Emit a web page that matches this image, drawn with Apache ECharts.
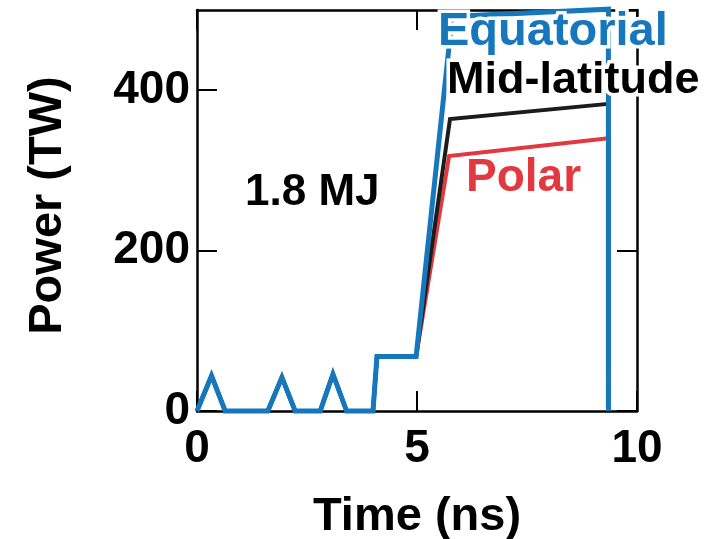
<!DOCTYPE html>
<html>
<head>
<meta charset="utf-8">
<script src="https://cdn.jsdelivr.net/npm/echarts@6/dist/echarts.min.js"></script>
<style>
  html, body { margin: 0; padding: 0; background: #fff; }
  #chart { width: 713px; height: 539px; }
</style>
</head>
<body>
<div id="chart"></div>
<script>
// Laser pulse shapes: time (ns) vs power (TW)
const equatorialTime  = [0, 0.33, 0.64, 1.61, 1.93, 2.23, 2.80, 3.09, 3.40, 4.00, 4.09, 4.98, 5.80, 9.35, 9.35];
const equatorialPower = [0, 44,   0,    0,    42,   0,    0,    46,   0,    0,    68,   68,   492,  501,  0];

const midLatTime  = [0, 0.33, 0.64, 1.61, 1.93, 2.23, 2.80, 3.09, 3.40, 4.00, 4.09, 4.98, 5.75, 9.35, 9.35];
const midLatPower = [0, 44,   0,    0,    42,   0,    0,    46,   0,    0,    68,   68,   364,  383,  0];

const polarTime  = [0, 0.33, 0.64, 1.61, 1.93, 2.23, 2.80, 3.09, 3.40, 4.00, 4.09, 4.98, 5.73, 9.35, 9.35];
const polarPower = [0, 44,   0,    0,    42,   0,    0,    46,   0,    0,    68,   68,   318,  340,  0];

const xRange = [0, 10], xStep = 5;
const yRange = [0, 500], yStep = 200;

const BLUE = '#1777bc', BLACK = '#1c1c1c', RED = '#e2383f';
const FONT = '"Liberation Sans", Arial, Helvetica, sans-serif';

const pairs = (t, p) => t.map((v, i) => [v, p[i]]);

const frameLine = { show: true, onZero: false, lineStyle: { color: '#000', width: 2.5 } };
const frameTick = { show: true, inside: true, length: 20, lineStyle: { color: '#000', width: 2 } };
const tickLabel = { color: '#000', fontSize: 46, fontWeight: 'bold', fontFamily: FONT };
const nameStyle = { color: '#000', fontSize: 47, fontWeight: 'bold', fontFamily: FONT };

const chart = echarts.init(document.getElementById('chart'), null, { renderer: 'canvas' });

chart.setOption({
  animation: false,
  backgroundColor: '#fff',
  grid: { left: 197, right: 76, top: 10, bottom: 128, containLabel: false, outerBoundsMode: 'none' },
  xAxis: [
    {
      type: 'value', min: xRange[0], max: xRange[1], interval: xStep, position: 'bottom',
      axisLine: frameLine, axisTick: frameTick, splitLine: { show: false },
      axisLabel: Object.assign({ margin: 15 }, tickLabel),
      name: 'Time (ns)', nameLocation: 'middle', nameGap: 83,
      nameTextStyle: nameStyle
    },
    {
      type: 'value', min: xRange[0], max: xRange[1], interval: xStep, position: 'top',
      axisLine: frameLine, axisTick: frameTick, splitLine: { show: false },
      axisLabel: { show: false }
    }
  ],
  yAxis: [
    {
      type: 'value', min: yRange[0], max: yRange[1], interval: yStep, position: 'left',
      axisLine: frameLine, axisTick: frameTick, splitLine: { show: false },
      axisLabel: Object.assign({ margin: 7, showMaxLabel: false }, tickLabel),
      name: 'Power (TW)', nameLocation: 'middle', nameGap: 125,
      nameTextStyle: Object.assign({ padding: [0, 0, 0, 10] }, nameStyle)
    },
    {
      type: 'value', min: yRange[0], max: yRange[1], interval: yStep, position: 'right',
      axisLine: frameLine, axisTick: frameTick, splitLine: { show: false },
      axisLabel: { show: false }
    }
  ],
  series: [
    {
      name: 'Polar', type: 'line', z: 2, clip: false, showSymbol: false, symbol: 'none',
      lineStyle: { color: RED, width: 4, join: 'miter' },
      data: pairs(polarTime, polarPower)
    },
    {
      name: 'Mid-latitude', type: 'line', z: 3, clip: false, showSymbol: false, symbol: 'none',
      lineStyle: { color: BLACK, width: 4, join: 'miter' },
      data: pairs(midLatTime, midLatPower)
    },
    {
      name: 'Equatorial', type: 'line', z: 4, clip: false, showSymbol: false, symbol: 'none',
      lineStyle: { color: BLUE, width: 5, join: 'miter' },
      data: pairs(equatorialTime, equatorialPower)
    }
  ],
  graphic: [
    { type: 'text', z: 100, x: 438, y: 32,
      style: { text: 'Equatorial', fill: BLUE, stroke: '#fff', lineWidth: 7, font: 'bold 47px ' + FONT, textAlign: 'left', textVerticalAlign: 'middle' } },
    { type: 'text', z: 100, x: 447, y: 81,
      style: { text: 'Mid-latitude', fill: '#000', stroke: '#fff', lineWidth: 7, font: 'bold 45px ' + FONT, textAlign: 'left', textVerticalAlign: 'middle' } },
    { type: 'text', z: 100, x: 466, y: 178,
      style: { text: 'Polar', fill: RED, stroke: '#fff', lineWidth: 6, font: 'bold 46px ' + FONT, textAlign: 'left', textVerticalAlign: 'middle' } },
    { type: 'text', z: 100, x: 245, y: 193,
      style: { text: '1.8 MJ', fill: '#000', font: 'bold 44px ' + FONT, textAlign: 'left', textVerticalAlign: 'middle' } }
  ]
});
</script>
</body>
</html>
